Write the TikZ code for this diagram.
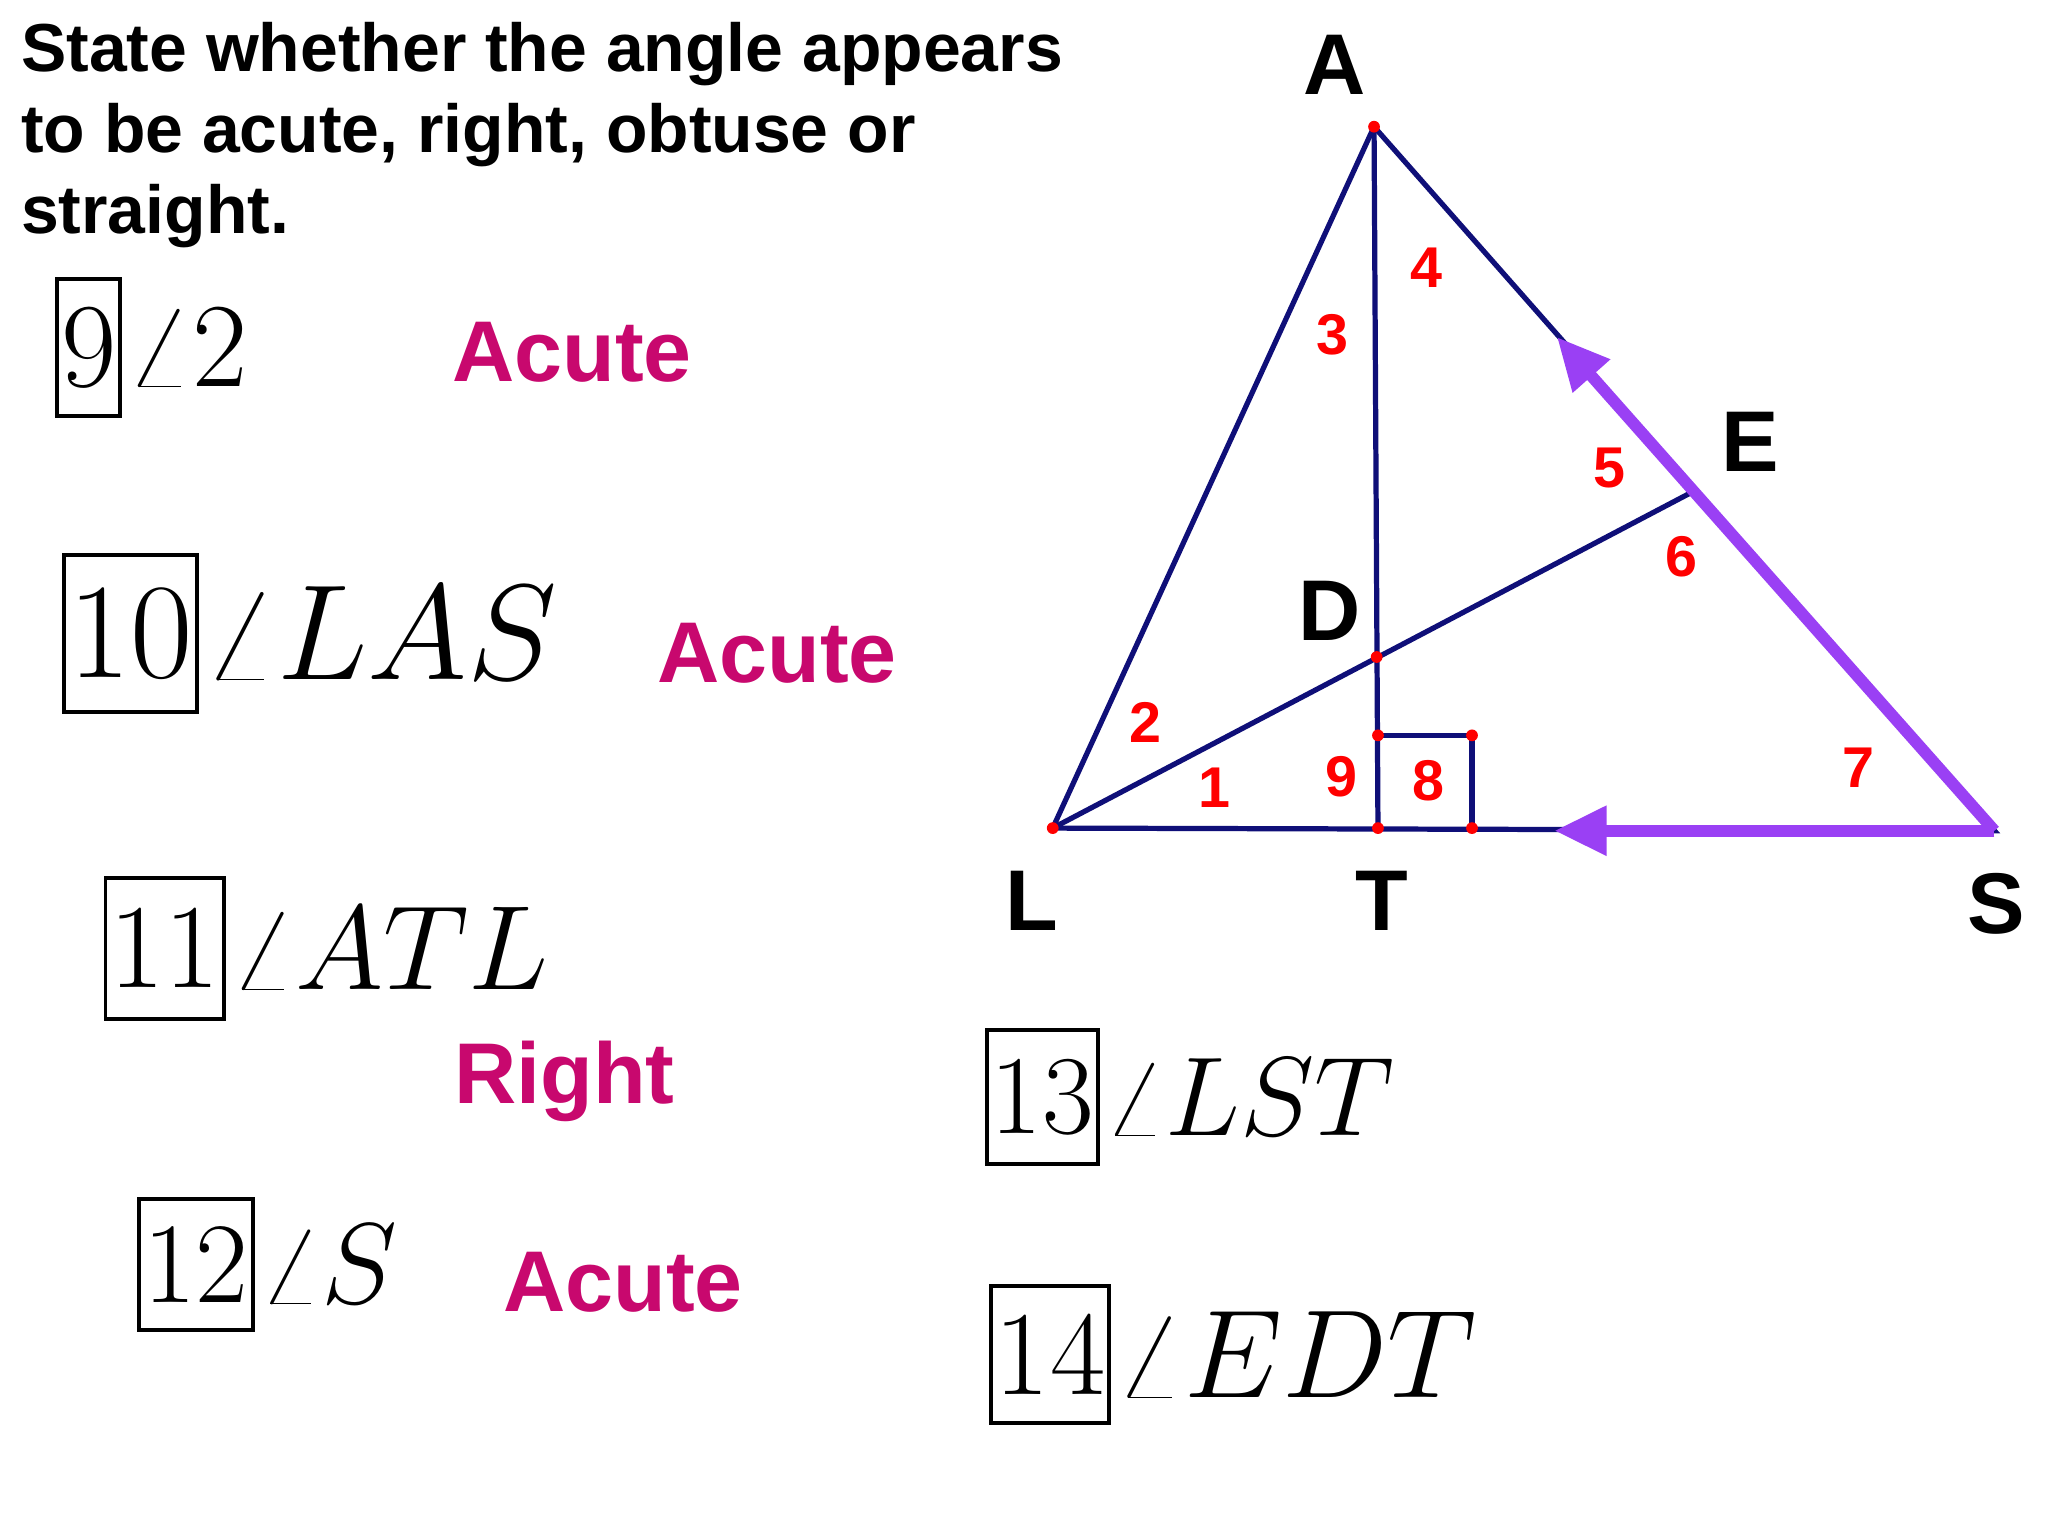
\RequirePackage{fix-cm}
\documentclass[tikz,border=0pt]{standalone}
\usepackage{fontspec}
\setsansfont{Liberation Sans}
\usetikzlibrary{arrows.meta}
\definecolor{navy}{HTML}{0F0F78}
\definecolor{ans}{HTML}{C8086E}
\definecolor{purp}{HTML}{9A40F4}
\begin{document}
\begin{tikzpicture}[x=1pt,y=-1pt,
  lbl/.style={font=\sffamily\bfseries\fontsize{66}{66}\selectfont},
  num/.style={text=red,font=\sffamily\bfseries\fontsize{44}{44}\selectfont},
  answer/.style={text=ans,font=\sffamily\bfseries\fontsize{66}{66}\selectfont,anchor=center},
  qbox/.style={draw,line width=3pt,inner xsep=3pt,inner ysep=0pt},
  dot/.style={circle,fill=red,inner sep=0pt,minimum size=9pt},
  seg/.style={navy,line width=4pt}]
\useasboundingbox (0,0) rectangle (1568,1176);
\fill[white] (0,0) rectangle (1568,1176);
% geometry
\coordinate (A) at (1052,97);
\coordinate (L) at (806,634);
\coordinate (S) at (1527,636);
\coordinate (T) at (1055,634);
\coordinate (D) at (1054,503);
\coordinate (E) at (1295,377);
\coordinate (B1) at (1055,563);
\coordinate (B2) at (1127,563);
\coordinate (B3) at (1127,634);
\coordinate (PA) at (1192,258);
\coordinate (PB) at (1190,636);
\draw[seg] (L) -- (A) -- (S) -- (L);
\draw[seg] (A) -- (T);
\draw[seg] (L) -- (E);
\draw[seg] (B1) -- (B2) -- (B3);
\draw[purp,line width=9pt,-{Triangle[length=40pt,width=36pt]}] (S) -- (PA);
\draw[purp,line width=9pt,-{Triangle[length=40pt,width=36pt]}] (S) -- (PB);
\foreach \p in {A,L,T,D,B1,B2,B3} \node[dot] at (\p) {};
% point labels
\node[lbl] (lA) at (1022,50) {A};
\node[lbl] (lE) at (1340,338) {E};
\node[lbl] (lD) at (1018,468) {D};
\node[lbl] (lL) at (790,690) {L};
\node[lbl] (lT) at (1058,690) {T};
\node[lbl] (lS) at (1528,692) {S};
% angle numbers
\node[num] (n4) at (1092,205) {4};
\node[num] (n3) at (1020,256) {3};
\node[num] (n5) at (1232,358) {5};
\node[num] (n6) at (1287,426) {6};
\node[num] (n2) at (877,553) {2};
\node[num] (n1) at (930,603) {1};
\node[num] (n9) at (1027,595) {9};
\node[num] (n8) at (1094,598) {8};
\node[num] (n7) at (1423,588) {7};
% heading
\node[anchor=north west,align=left,font=\sffamily\bfseries\fontsize{52}{62}\selectfont,inner sep=0pt] (head) at (16,17)
 {State whether the angle appears\\to be acute, right, obtuse or\\straight.};
% questions
\node[qbox,minimum height=105pt,font=\fontsize{92}{92}\selectfont] (q9) at (68,266) {9};
\node[anchor=west,font=\fontsize{92}{92}\selectfont] (a9) at (q9.east) {$\angle 2$};
\node[answer] (r9) at (438,270) {Acute};
\node[qbox,minimum height=120pt,font=\fontsize{104}{104}\selectfont] (q10) at (100,485) {10};
\node[anchor=west,font=\fontsize{104}{104}\selectfont] (a10) at (q10.east) {$\angle LAS$};
\node[answer] (r10) at (595,500) {Acute};
\node[qbox,minimum height=108pt,font=\fontsize{92}{92}\selectfont] (q11) at (126,726) {11};
\node[anchor=west,font=\fontsize{92}{92}\selectfont] (a11) at (q11.east) {$\angle ATL$};
\node[answer] (r11) at (432,828) {Right};
\node[qbox,minimum height=100pt,font=\fontsize{88}{88}\selectfont] (q12) at (150,968) {12};
\node[anchor=west,font=\fontsize{88}{88}\selectfont] (a12) at (q12.east) {$\angle S$};
\node[answer] (r12) at (477,982) {Acute};
\node[qbox,minimum height=103pt,font=\fontsize{86}{86}\selectfont] (q13) at (798,840) {13};
\node[anchor=west,font=\fontsize{86}{86}\selectfont] (a13) at (q13.east) {$\angle LST$};
\node[qbox,minimum height=105pt,font=\fontsize{92}{92}\selectfont] (q14) at (804,1037) {14};
\node[anchor=west,font=\fontsize{96}{96}\selectfont] (a14) at (q14.east) {$\angle EDT$};
\end{tikzpicture}
\end{document}
